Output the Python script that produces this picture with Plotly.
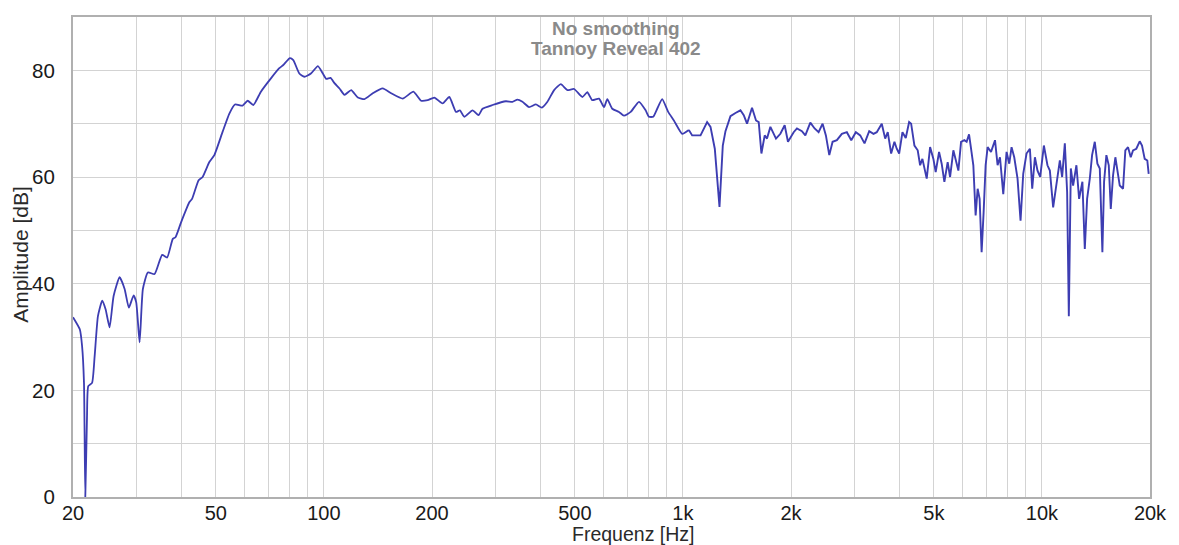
import math
import plotly.graph_objects as go

# ---------------- data ----------------
freq_hz = [
    20, 20.9, 21.2, 21.46, 21.64, 21.88, 22.06, 22.6, 22.98, 23.47, 24.12, 24.65, 25.29, 25.95,
    26.97, 27.85, 28.62, 29.5, 30.0, 30.66, 31.31, 32.33, 33.75, 35.43, 36.58, 37.93, 38.59,
    40.0, 42.21, 42.92, 44.77, 45.93, 47.95, 49.51, 52.23, 54.52, 56.51, 59.37, 61.31, 63.58,
    66.75, 71.18, 75.1, 77.05, 80.4, 82.17, 85.4, 88.2, 92.0, 96.2, 99.3, 101.5, 104.3,
    107.0, 110.5, 114.1, 119.1, 124.3, 129.7, 136.8, 145.8, 153.9, 165.7, 177.5, 186.4, 194.5,
    203.0, 214.1, 223.5, 233.3, 239.3, 246.0, 259.4, 269.6, 276.6, 294.9, 321.2, 335.1, 346.0,
    357.3, 372.9, 389.3, 404.5, 419.3, 437.7, 456.9, 476.6, 497.5, 524.6, 541.6, 559.2, 583.8,
    602.8, 615.7, 635.7, 663.6, 685.2, 715.2, 754.3, 787.3, 804.1, 826.5, 847.9, 875.5, 909.8,
    943.6, 995.1,
    1038.7, 1061, 1119.5, 1167.8, 1193.5, 1226.8, 1264.3, 1291.3, 1313.8, 1356.5, 1400.6,
    1446.2, 1477.1, 1508.6, 1557.7, 1598.1, 1626, 1654.3, 1689.7, 1714.7, 1752.4, 1816.4,
    1868.3, 1920.5, 1961.5, 2034.4, 2077.8, 2145.4, 2192.6, 2263.9, 2327.1, 2387.4, 2449.3,
    2501.6, 2556.7, 2611.2, 2684.1, 2771.4, 2861.6, 2943.4, 3031.4, 3118, 3205, 3303, 3395,
    3467, 3580, 3659, 3720, 3802, 3883, 3941,
    4002, 4088, 4175, 4267, 4322, 4414, 4508, 4578, 4646, 4706, 4776, 4881, 4985, 5059, 5170,
    5257, 5349, 5463, 5548, 5666, 5750, 5851, 5953, 6080, 6170, 6266, 6347, 6441, 6536, 6621,
    6706, 6792, 6880, 6969, 7059, 7214, 7401, 7525, 7641, 7804, 7971, 8110, 8230, 8373, 8552,
    8718, 8870, 9059,
    9258, 9396, 9560, 9720, 9888, 10125, 10361, 10522, 10747, 10976, 11218, 11384, 11582,
    11754, 11883, 12036, 12214, 12475, 12693, 12964, 13165, 13361, 13594, 13795, 14036, 14272,
    14493, 14737, 14898, 15119, 15353, 15551, 15781, 16015, 16221, 16473, 16824, 17074, 17372,
    17675, 17937, 18320, 18723, 19001, 19332, 19657, 19834,
]

amplitude_db = [
    33.7, 31.4, 28.3, 21.4, 0.0, 15.1, 20.8, 21.4, 26.4, 33.9, 36.8, 35.2, 31.8, 37.7,
    41.2, 39.0, 35.5, 37.8, 36.5, 29.0, 39.0, 42.1, 41.8, 45.4, 44.9, 48.4, 48.7,
    51.5, 55.3, 55.9, 59.4, 60.0, 62.8, 64.1, 68.5, 71.9, 73.6, 73.4, 74.3, 73.5,
    76.0, 78.5, 80.4, 81.0, 82.3, 81.9, 79.4, 78.8, 79.4, 80.8, 79.4, 78.4, 78.6,
    77.6, 76.6, 75.4, 76.3, 74.9, 74.6, 75.7, 76.6, 75.7, 74.7, 76.0, 74.3, 74.4,
    74.9, 73.8, 75.0, 72.2, 72.5, 71.3, 72.5, 71.6, 72.8, 73.5, 74.2, 74.1, 74.5,
    74.1, 73.1, 73.6, 73.0, 74.1, 76.3, 77.4, 76.3, 76.5, 75.0, 75.9, 74.4, 74.7,
    73.1, 74.6, 72.8, 72.2, 71.5, 72.2, 74.1, 72.5, 71.3, 71.3, 72.8, 74.6, 72.2,
    70.6, 68.1,
    68.8, 67.8, 67.8, 70.3, 69.4, 65.3, 54.4, 65.9, 68.6, 71.4, 72.0,
    72.5, 71.6, 70.0, 73.0, 70.6, 70.3, 64.4, 67.8, 67.2, 69.4, 67.2,
    68.1, 69.7, 66.6, 68.4, 69.1, 68.6, 67.8, 70.2, 69.1, 68.4, 70.0,
    67.8, 64.1, 66.6, 66.9, 68.1, 68.4, 66.9, 68.4, 67.8, 66.3, 68.6, 68.1,
    68.4, 70.0, 67.2, 68.4, 64.4, 66.6, 65.3,
    64.4, 68.4, 67.3, 70.3, 70.0, 65.9, 65.0, 62.2, 63.4, 61.9, 59.7, 65.6, 63.4, 60.9, 64.7,
    62.5, 59.1, 62.8, 60.0, 65.0, 63.4, 61.2, 66.6, 66.9, 66.6, 68.0, 65.3, 62.2, 52.8, 57.8,
    55.9, 45.9, 53.4, 62.2, 65.6, 64.7, 66.9, 62.2, 63.7, 56.8, 64.7, 62.5, 65.6, 63.7, 59.7,
    51.8, 60.6, 64.4,
    65.3, 57.8, 63.7, 61.2, 60.0, 65.9, 62.2, 61.2, 54.3, 59.1, 63.1, 60.0, 66.3,
    57.2, 33.9, 61.6, 58.4, 62.2, 55.9, 59.1, 46.5, 55.9, 59.7, 64.1, 66.6, 62.5,
    61.6, 45.9, 59.1, 64.1, 62.2, 54.0, 60.3, 63.7, 61.2, 58.4, 57.8, 65.0, 65.6,
    63.7, 65.0, 65.3, 66.7, 65.9, 63.4, 63.1, 60.6,
]

x_tick_vals = [20, 50, 100, 200, 500, 1000, 2000, 5000, 10000, 20000]
x_tick_text = ["20", "50", "100", "200", "500", "1k", "2k", "5k", "10k", "20k"]
x_minor_vals = [30, 40, 60, 70, 80, 90, 300, 400, 600, 700, 800, 900,
                3000, 4000, 6000, 7000, 8000, 9000]
y_tick_vals = [0, 20, 40, 60, 80]
y_minor_vals = [10, 30, 50, 70, 90]

title_lines = ["No smoothing", "Tannoy Reveal 402"]
x_title = "Frequenz [Hz]"
y_title = "Amplitude [dB]"

# smooth (spline) drawing for the sparse low/mid band, straight segments above
SPLIT_HZ = 1000

# ---------------- figure ----------------
FONT = "Liberation Sans, Arial, sans-serif"
GRID = "#d3d3d3"
FRAME = "#b0b0b0"
LINE = "#3d3db2"

n_low = sum(1 for f in freq_hz if f < SPLIT_HZ)
low_x, low_y = freq_hz[:n_low + 1], amplitude_db[:n_low + 1]
high_x, high_y = freq_hz[n_low:], amplitude_db[n_low:]

fig = go.Figure()
fig.add_trace(go.Scatter(
    x=low_x, y=low_y, mode="lines",
    line=dict(color=LINE, width=1.8, shape="spline", smoothing=0.5),
    showlegend=False, hoverinfo="skip",
))
fig.add_trace(go.Scatter(
    x=high_x, y=high_y, mode="lines",
    line=dict(color=LINE, width=1.9),
    showlegend=False, hoverinfo="skip",
))

fig.update_layout(
    width=1179, height=545,
    margin=dict(l=73, r=27, t=17, b=48),
    paper_bgcolor="white", plot_bgcolor="white",
    font=dict(family=FONT, size=20, color="#1a1a1a"),
)

fig.update_xaxes(
    type="log", range=[math.log10(20), math.log10(20000)],
    tickvals=x_tick_vals, ticktext=x_tick_text,
    showgrid=True, gridcolor=GRID, gridwidth=1,
    minor=dict(tickvals=x_minor_vals, showgrid=True, gridcolor=GRID, gridwidth=1, ticks=""),
    showline=True, mirror=True, linecolor=FRAME, linewidth=2,
    ticks="", ticklabelstandoff=-3,
    tickfont=dict(family=FONT, size=20, color="#1a1a1a"),
    zeroline=False,
)
fig.update_yaxes(
    range=[0, 90],
    tickvals=y_tick_vals,
    showgrid=True, gridcolor=GRID, gridwidth=1,
    minor=dict(tickvals=y_minor_vals, showgrid=True, gridcolor=GRID, gridwidth=1, ticks=""),
    showline=True, mirror=True, linecolor=FRAME, linewidth=2,
    ticks="outside", ticklen=12, tickcolor="rgba(0,0,0,0)",
    tickfont=dict(family=FONT, size=20.5, color="#1a1a1a"),
    zeroline=False,
)

# titles
fig.add_annotation(text="<b>%s</b>" % title_lines[0], xref="paper", yref="paper",
                   x=0.504, y=0.976, xanchor="center", yanchor="middle", showarrow=False,
                   font=dict(family=FONT, size=19, color="#8a8a8a"))
fig.add_annotation(text="<b>%s</b>" % title_lines[1], xref="paper", yref="paper",
                   x=0.504, y=0.934, xanchor="center", yanchor="middle", showarrow=False,
                   font=dict(family=FONT, size=19, color="#8a8a8a"))
fig.add_annotation(text=x_title, xref="paper", yref="paper",
                   x=0.520, y=0.0, yshift=-37, xanchor="center", yanchor="middle",
                   showarrow=False,
                   font=dict(family=FONT, size=19.5, color="#2a2a2a"))
fig.add_annotation(text=y_title, xref="paper", yref="paper", textangle=-90,
                   x=-0.049, y=0.505, xanchor="center", yanchor="middle", showarrow=False,
                   font=dict(family=FONT, size=21, color="#2a2a2a"))

fig.write_html("out.html")
